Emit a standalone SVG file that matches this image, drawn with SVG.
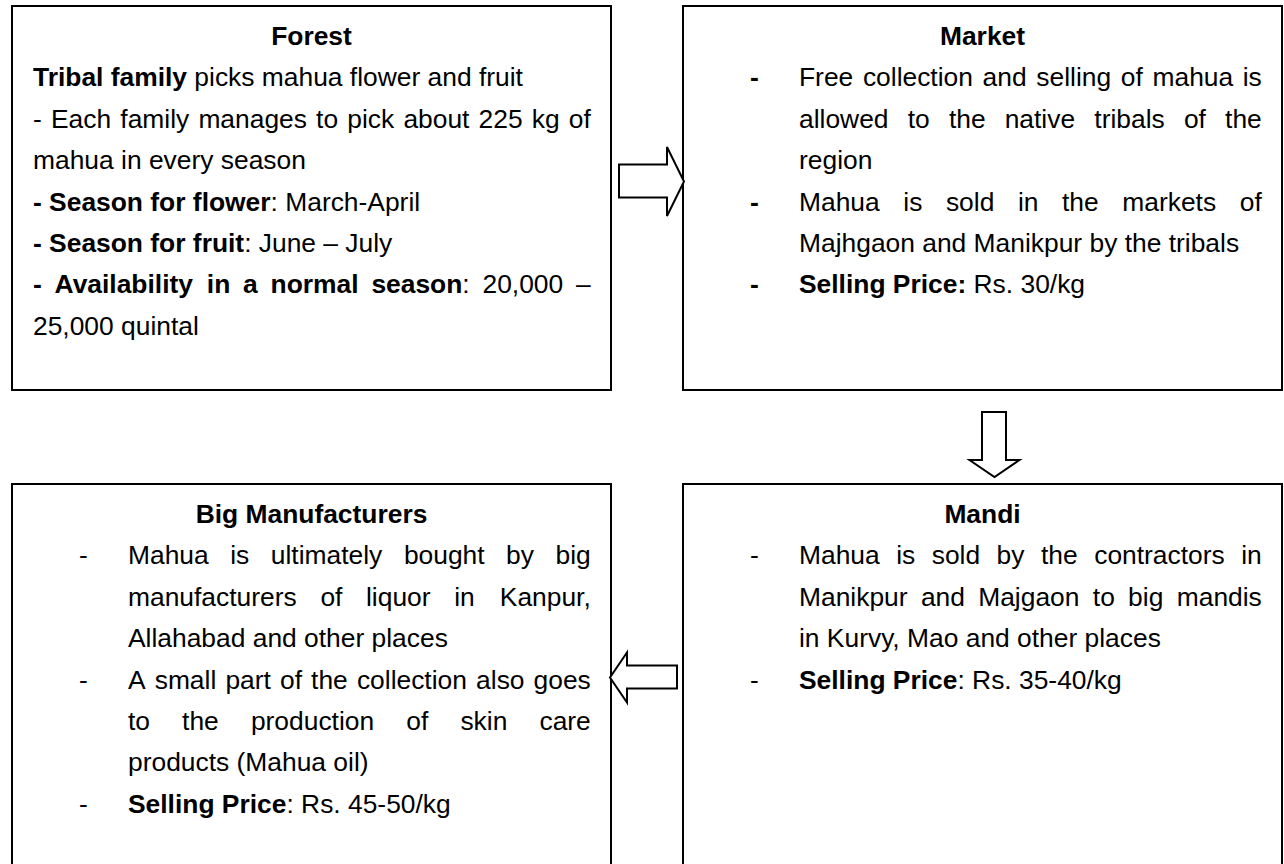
<svg xmlns="http://www.w3.org/2000/svg" width="1284" height="864" viewBox="0 0 1284 864">
<style>
.box{fill:#fff;stroke:#000;stroke-width:2}
text{font-family:"Liberation Sans",Arial,sans-serif;font-size:26.4px;fill:#000}
.b{font-weight:bold}
.h{font-weight:bold;text-anchor:middle}
.e{text-anchor:end}
.arrow{fill:#fff;stroke:#000;stroke-width:2;stroke-linejoin:miter}
</style>
<rect width="1284" height="864" fill="#fff"/>
<g id="forest">
<rect class="box" x="12" y="6" width="599" height="384"/>
<text class="h" x="311.5" y="45.2">Forest</text>
<text x="33" y="86.3"><tspan class="b">Tribal family</tspan> picks mahua flower and fruit</text>
<text y="127.7"><tspan x="33">-</tspan><tspan x="51">Each</tspan><tspan x="120.3">family</tspan><tspan x="198.4">manages</tspan><tspan x="316.1">to</tspan><tspan x="347.3">pick</tspan><tspan x="403.4">about</tspan><tspan x="478.6">225</tspan><tspan x="531.8">kg</tspan><tspan x="590.8" class="e">of</tspan></text>
<text x="33" y="169.1">mahua in every season</text>
<text x="33" y="210.5"><tspan class="b">- Season for flower</tspan>: March-April</text>
<text x="33" y="251.9"><tspan class="b">- Season for fruit</tspan>: June – July</text>
<text y="293.3"><tspan x="33" class="b">-</tspan><tspan x="54.6" class="b">Availability</tspan><tspan x="206.8" class="b">in</tspan><tspan x="243.1" class="b">a</tspan><tspan x="270.6" class="b">normal</tspan><tspan x="371.4"><tspan class="b">season</tspan>:</tspan><tspan x="482.5">20,000</tspan><tspan x="590.8" class="e">–</tspan></text>
<text x="33" y="334.7">25,000 quintal</text>
</g>
<g id="market">
<rect class="box" x="683" y="6" width="599" height="384"/>
<text class="h" x="982.5" y="45.2">Market</text>
<text y="86.3"><tspan x="750" class="b">-</tspan><tspan x="799">Free</tspan><tspan x="862.9">collection</tspan><tspan x="982.6">and</tspan><tspan x="1036.3">selling</tspan><tspan x="1120.8">of</tspan><tspan x="1152.5">mahua</tspan><tspan x="1261.8" class="e">is</tspan></text>
<text y="127.7"><tspan x="799">allowed</tspan><tspan x="907.7">to</tspan><tspan x="948.9">the</tspan><tspan x="1004.7">native</tspan><tspan x="1094.3">tribals</tspan><tspan x="1183.9">of</tspan><tspan x="1261.8" class="e">the</tspan></text>
<text x="799" y="169.1">region</text>
<text y="210.5"><tspan x="750" class="b">-</tspan><tspan x="799">Mahua</tspan><tspan x="903.3">is</tspan><tspan x="945.9">sold</tspan><tspan x="1017.9">in</tspan><tspan x="1062">the</tspan><tspan x="1122.3">markets</tspan><tspan x="1261.8" class="e">of</tspan></text>
<text x="799" y="251.9">Majhgaon and Manikpur by the tribals</text>
<text y="293.3"><tspan x="750" class="b">-</tspan><tspan x="799"><tspan class="b">Selling Price:</tspan> Rs. 30/kg</tspan></text>
</g>
<g id="mandi">
<rect class="box" x="683" y="484" width="599" height="400"/>
<text class="h" x="982.5" y="523.2">Mandi</text>
<text y="564.3"><tspan x="750">-</tspan><tspan x="799">Mahua</tspan><tspan x="896.2">is</tspan><tspan x="931.7">sold</tspan><tspan x="996.6">by</tspan><tspan x="1041">the</tspan><tspan x="1094.2">contractors</tspan><tspan x="1261.8" class="e">in</tspan></text>
<text y="605.7"><tspan x="799">Manikpur</tspan><tspan x="920.9">and</tspan><tspan x="978.2">Majgaon</tspan><tspan x="1092.8">to</tspan><tspan x="1128.1">big</tspan><tspan x="1261.8" class="e">mandis</tspan></text>
<text x="799" y="647.1">in Kurvy, Mao and other places</text>
<text y="688.5"><tspan x="750">-</tspan><tspan x="799"><tspan class="b">Selling Price</tspan>: Rs. 35-40/kg</tspan></text>
</g>
<g id="big-manufacturers">
<rect class="box" x="12" y="484" width="599" height="400"/>
<text class="h" x="311.5" y="523.2">Big Manufacturers</text>
<text y="564.3"><tspan x="79">-</tspan><tspan x="128">Mahua</tspan><tspan x="230.2">is</tspan><tspan x="270.8">ultimately</tspan><tspan x="403.9">bought</tspan><tspan x="506.1">by</tspan><tspan x="590.8" class="e">big</tspan></text>
<text y="605.7"><tspan x="128">manufacturers</tspan><tspan x="320.4">of</tspan><tspan x="366">liquor</tspan><tspan x="454.2">in</tspan><tspan x="590.8" class="e">Kanpur,</tspan></text>
<text x="128" y="647.1">Allahabad and other places</text>
<text y="688.5"><tspan x="79">-</tspan><tspan x="128">A</tspan><tspan x="154.7">small</tspan><tspan x="225.4">part</tspan><tspan x="280">of</tspan><tspan x="311.1">the</tspan><tspan x="356.9">collection</tspan><tspan x="476.1">also</tspan><tspan x="590.8" class="e">goes</tspan></text>
<text y="729.9"><tspan x="128">to</tspan><tspan x="182.1">the</tspan><tspan x="250.9">production</tspan><tspan x="406.3">of</tspan><tspan x="460.4">skin</tspan><tspan x="590.8" class="e">care</tspan></text>
<text x="128" y="771.3">products (Mahua oil)</text>
<text y="812.7"><tspan x="79">-</tspan><tspan x="128"><tspan class="b">Selling Price</tspan>: Rs. 45-50/kg</tspan></text>
</g>
<g id="connectors">
<polygon class="arrow" points="619,164.5 667,164.5 667,147 684,181.5 667,216 667,197.5 619,197.5"/>
<polygon class="arrow" points="982,412 1006,412 1006,460 1019.5,460 994.5,477 969.5,460 982,460"/>
<polygon class="arrow" points="677,665.5 627,665.5 627,652.5 610,677.5 627,702.5 627,688.5 677,688.5"/>
</g>
</svg>
